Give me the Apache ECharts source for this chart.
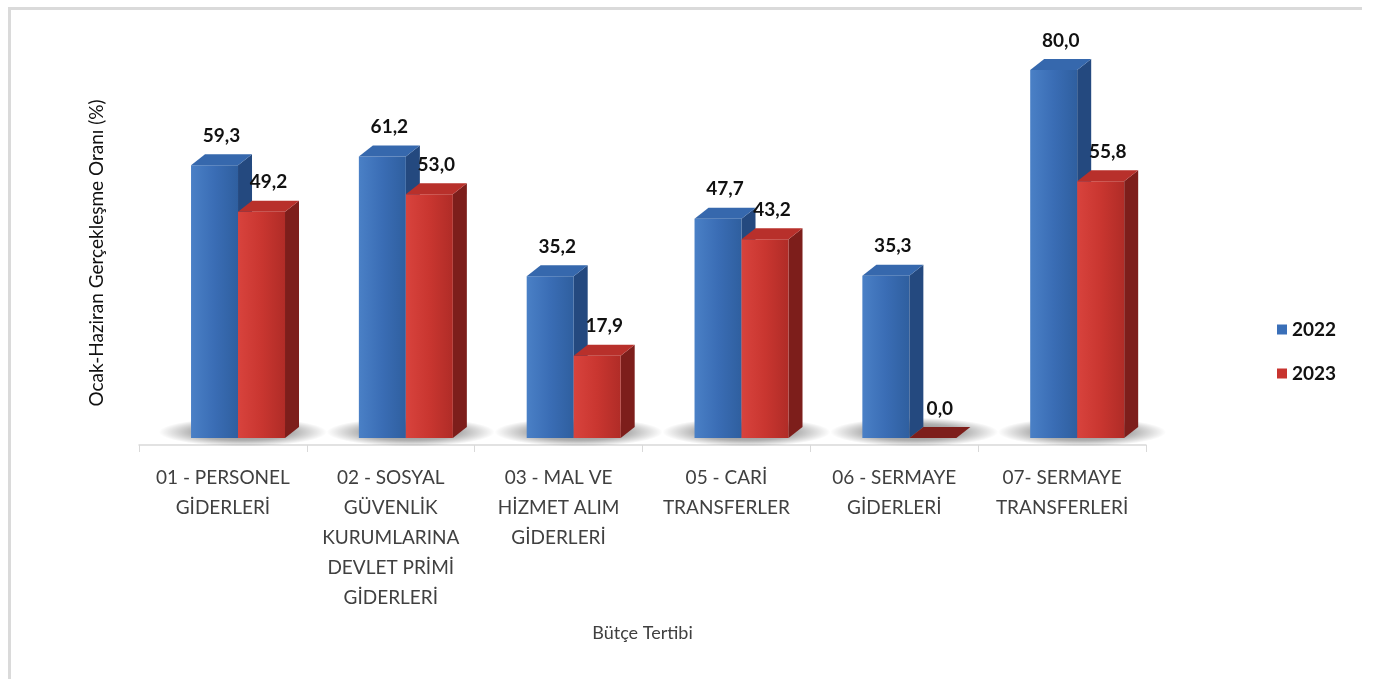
<!DOCTYPE html>
<html>
<head>
<meta charset="utf-8">
<script src="https://cdn.jsdelivr.net/npm/echarts@6/dist/echarts.min.js"></script>
<style>
  html, body { margin: 0; padding: 0; background: #fff; }
  #main { width: 1375px; height: 679px; }
</style>
</head>
<body>
<div id="main"></div>
<script>
var categories = [
    '01 - PERSONEL\nGİDERLERİ',
    '02 - SOSYAL\nGÜVENLİK\nKURUMLARINA\nDEVLET PRİMİ\nGİDERLERİ',
    '03 - MAL VE\nHİZMET ALIM\nGİDERLERİ',
    '05 - CARİ\nTRANSFERLER',
    '06 - SERMAYE\nGİDERLERİ',
    '07- SERMAYE\nTRANSFERLERİ'
];
var years = ['2022', '2023'];
var v2022 = [59.3, 61.2, 35.2, 47.7, 35.3, 80.0];
var v2023 = [49.2, 53.0, 17.9, 43.2, 0.0, 55.8];

var myChart = echarts.init(document.getElementById('main'));

// renk setleri: on yuz, ust, yan
var palette = [
    { front: ['#4a80c6', '#3a6db5', '#2f5f9f'], top: '#3668ad', side: '#24497f', legend: '#3a6fb8' },
    { front: ['#d8433d', '#c93630', '#b02c27'], top: '#b8302b', side: '#7d1e1b', legend: '#c8342f' }
];
var DX = 14, DY = 11;

function fmt(v) {
    return v.toFixed(1).replace('.', ',');
}

function barItem(s) {
    return function(params, api) {
        var i = api.value(0), v = api.value(1);
        var base = api.coord([i, 0]);
        var top = api.coord([i, v]);
        var band = api.size([1, 0])[0];
        var w = band * 0.28;
        var x0 = base[0] - band * 0.19 + s * w;
        var by = base[1], ty = top[1];
        var c = palette[s];
        var children = [];
        if (by - ty > 0.5) {
            children.push({
                type: 'polygon',
                shape: { points: [[x0 + w, ty], [x0 + w + DX, ty - DY], [x0 + w + DX, by - DY], [x0 + w, by]] },
                style: { fill: c.side }
            });
            children.push({
                type: 'rect',
                shape: { x: x0, y: ty, width: w, height: by - ty },
                style: {
                    fill: new echarts.graphic.LinearGradient(0, 0, 1, 0, [
                        { offset: 0, color: c.front[0] },
                        { offset: 0.5, color: c.front[1] },
                        { offset: 1, color: c.front[2] }
                    ])
                }
            });
        }
        children.push({
            type: 'polygon',
            shape: { points: [[x0, ty], [x0 + w, ty], [x0 + w + DX, ty - DY], [x0 + DX, ty - DY]] },
            style: { fill: by - ty > 0.5 ? c.top : c.side }
        });
        children.push({
            type: 'text',
            style: {
                text: fmt(v),
                x: x0 + w / 2 + DX / 2,
                y: ty - DY - 9,
                align: 'center',
                verticalAlign: 'bottom',
                font: 'bold 19px Lato',
                fill: '#111'
            }
        });
        return { type: 'group', children: children };
    };
}

function shadowItem(params, api) {
    var i = api.value(0);
    var base = api.coord([i, 0]);
    return {
        type: 'circle',
        shape: { cx: 0, cy: 0, r: 84 },
        x: base[0] + 20,
        y: base[1] - 6,
        scaleY: 0.17,
        style: {
            fill: new echarts.graphic.RadialGradient(0.5, 0.5, 0.5, [
                { offset: 0, color: 'rgba(0,0,0,0.5)' },
                { offset: 0.6, color: 'rgba(0,0,0,0.3)' },
                { offset: 1, color: 'rgba(0,0,0,0)' }
            ])
        }
    };
}

var option = {
    backgroundColor: '#fff',
    animation: false,
    grid: { left: 139, right: 229, top: 24, bottom: 234 },
    legend: {
        data: years,
        orient: 'vertical',
        left: 1272,
        top: 315,
        itemWidth: 10,
        itemHeight: 10,
        itemGap: 25,
        icon: 'rect',
        textStyle: { fontFamily: 'Lato', fontWeight: 'bold', fontSize: 19, color: '#111' }
    },
    xAxis: {
        type: 'category',
        data: categories,
        axisLine: { onZero: false, lineStyle: { color: '#d9d9d9', width: 1.5 } },
        axisTick: { show: true, length: 7, lineStyle: { color: '#d9d9d9' } },
        axisLabel: {
            interval: 0,
            margin: 18,
            color: '#404040',
            fontFamily: 'Lato',
            fontSize: 19,
            lineHeight: 30
        },
        name: 'Bütçe Tertibi',
        nameLocation: 'middle',
        nameGap: 179,
        nameTextStyle: { color: '#404040', fontFamily: 'Lato', fontSize: 18 }
    },
    yAxis: {
        type: 'value',
        min: -1.5,
        max: 90,
        show: false
    },
    graphic: [
        { type: 'rect', shape: { x: 10, y: 7, width: 1352, height: 3 }, style: { fill: '#dadada' } },
        { type: 'rect', shape: { x: 8, y: 7, width: 3, height: 672 }, style: { fill: '#dadada' } },
        {
            type: 'text',
            x: 97,
            y: 253,
            rotation: Math.PI / 2,
            style: {
                text: 'Ocak-Haziran Gerçekleşme Oranı (%)',
                align: 'center',
                verticalAlign: 'middle',
                font: '19px Lato',
                fill: '#111'
            }
        }
    ],
    series: [
        {
            type: 'custom',
            name: 'shadow',
            z: 1,
            data: categories.map(function(c, i) { return [i]; }),
            renderItem: shadowItem,
            silent: true
        },
        {
            type: 'custom',
            name: years[0],
            z: 2,
            itemStyle: { color: palette[0].legend },
            data: v2022.map(function(v, i) { return [i, v]; }),
            renderItem: barItem(0)
        },
        {
            type: 'custom',
            name: years[1],
            z: 3,
            itemStyle: { color: palette[1].legend },
            data: v2023.map(function(v, i) { return [i, v]; }),
            renderItem: barItem(1)
        }
    ]
};

myChart.setOption(option);
</script>
</body>
</html>
